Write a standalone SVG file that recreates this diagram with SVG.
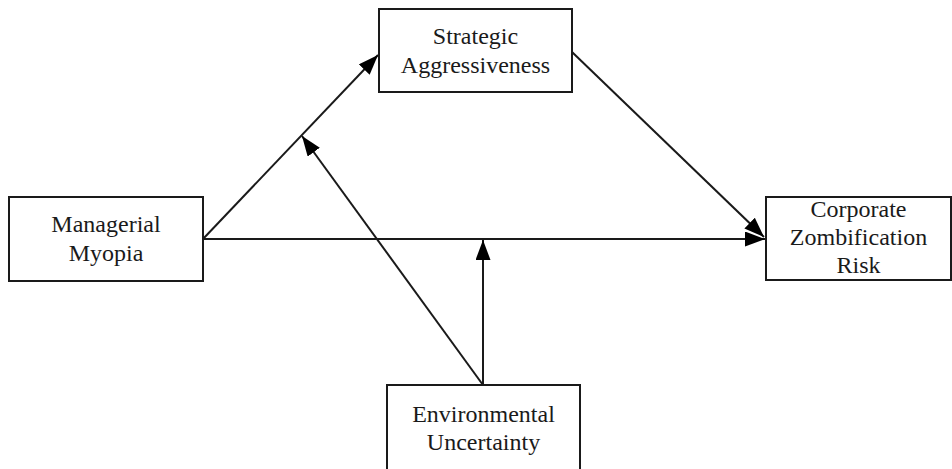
<svg xmlns="http://www.w3.org/2000/svg" width="952" height="469" viewBox="0 0 952 469">
<style>
.box{fill:#fff;stroke:#1a1a1a;stroke-width:2}
.t{font-family:'Liberation Serif','Times New Roman',serif;font-size:24px;fill:#1a1a1a;text-anchor:middle}
.c{stroke:#1a1a1a;stroke-width:2;fill:none;marker-end:url(#ah)}
</style>
<defs>
<marker id="ah" markerUnits="userSpaceOnUse" markerWidth="21" markerHeight="16" refX="20" refY="7.5" orient="auto">
<path d="M0,0 L20,7.5 L0,15 z" fill="#000"/>
</marker>
</defs>
<rect width="952" height="469" fill="#fff"/>
<g id="connectors">
<line class="c" x1="203" y1="239" x2="378" y2="55"/>
<line class="c" x1="572" y1="52" x2="764" y2="237"/>
<line class="c" x1="203" y1="239" x2="765" y2="239"/>
<line class="c" x1="483" y1="385" x2="483" y2="240"/>
<line class="c" x1="483" y1="385" x2="302" y2="136"/>
</g>
<g id="strategic">
<rect class="box" x="379" y="9" width="193" height="83"/>
<text class="t" x="475.5" y="44">Strategic</text>
<text class="t" x="475.5" y="73">Aggressiveness</text>
</g>
<g id="myopia">
<rect class="box" x="9" y="197" width="194" height="84"/>
<text class="t" x="106" y="232">Managerial</text>
<text class="t" x="106" y="261">Myopia</text>
</g>
<g id="corporate">
<rect class="box" x="766" y="197" width="185" height="83"/>
<text class="t" x="858.5" y="217">Corporate</text>
<text class="t" x="858.5" y="245">Zombification</text>
<text class="t" x="858.5" y="273">Risk</text>
</g>
<g id="environmental">
<rect class="box" x="387" y="385" width="193" height="100"/>
<text class="t" x="483.5" y="421.5">Environmental</text>
<text class="t" x="483.5" y="450">Uncertainty</text>
</g>
</svg>
